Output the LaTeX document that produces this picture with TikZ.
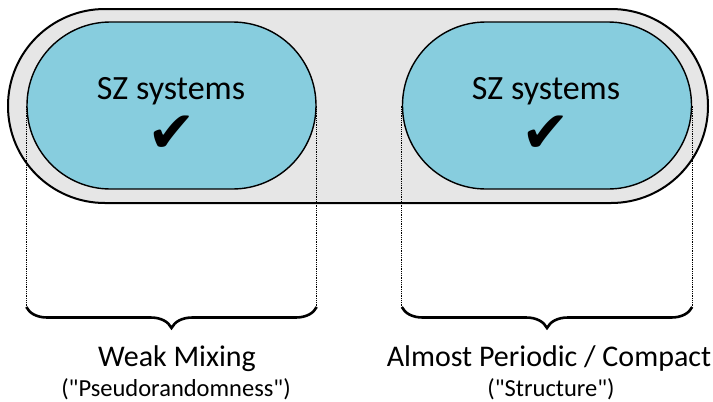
\documentclass[tikz,border=0pt]{standalone}
\usepackage{fontspec}
\setmainfont{Carlito}
\newfontfamily\symfont{DejaVu Sans}
\usetikzlibrary{decorations.pathreplacing}
\definecolor{outerfill}{RGB}{230,230,230}
\definecolor{innerfill}{RGB}{135,205,222}
\begin{document}
\begin{tikzpicture}[x=1pt,y=-1pt,
  outerbox/.style={draw=black,line width=2pt,fill=outerfill,rounded corners=96.9pt,minimum width=700pt,minimum height=194pt,inner sep=0pt},
  innerbox/.style={draw=black,line width=1.4pt,fill=innerfill,rounded corners=83.4pt,minimum width=289pt,minimum height=167pt,inner sep=0pt},
  guide/.style={densely dotted,line width=0.8pt},
  bracestyle/.style={decorate,decoration={brace,mirror,amplitude=21pt},line width=2.6pt},
  big/.style={font=\fontsize{30}{32}\selectfont,anchor=base,inner sep=0pt},
  inbox/.style={font=\fontsize{34}{36}\selectfont,anchor=base,inner sep=0pt},
  small/.style={font=\fontsize{24.5}{26}\selectfont,anchor=base,inner sep=0pt},
  tick/.style={font=\symfont\fontsize{58}{60}\selectfont,inner sep=0pt}]
\useasboundingbox (0,0) rectangle (713,402);
\node[outerbox] (outer) at (358,106) {};
\node[innerbox] (left) at (171.5,105.5) {};
\node[innerbox] (right) at (547,105.5) {};
\node[inbox] (lt) at (171,99) {SZ systems};
\node[inbox] (rt) at (546,99) {SZ systems};
\node[tick] (lc) at (172,134) {✔};
\node[tick] (rc) at (546,134) {✔};
\coordinate (l1) at (left.west |- 0,307);
\coordinate (l2) at (left.east |- 0,307);
\coordinate (r1) at (right.west |- 0,307);
\coordinate (r2) at (right.east |- 0,307);
\draw[guide] (left.west) -- (l1);
\draw[guide] (left.east) -- (l2);
\draw[guide] (right.west) -- (r1);
\draw[guide] (right.east) -- (r2);
\draw[bracestyle] (l1) -- (l2);
\draw[bracestyle] (r1) -- (r2);
\node[big] (wm) at (177,366) {Weak Mixing};
\node[small] (pr) at (176,396) {(\textquotedbl Pseudorandomness\textquotedbl)};
\node[big] (ap) at (549,366) {Almost Periodic / Compact};
\node[small] (st) at (551,396) {(\textquotedbl Structure\textquotedbl)};
\end{tikzpicture}
\end{document}
